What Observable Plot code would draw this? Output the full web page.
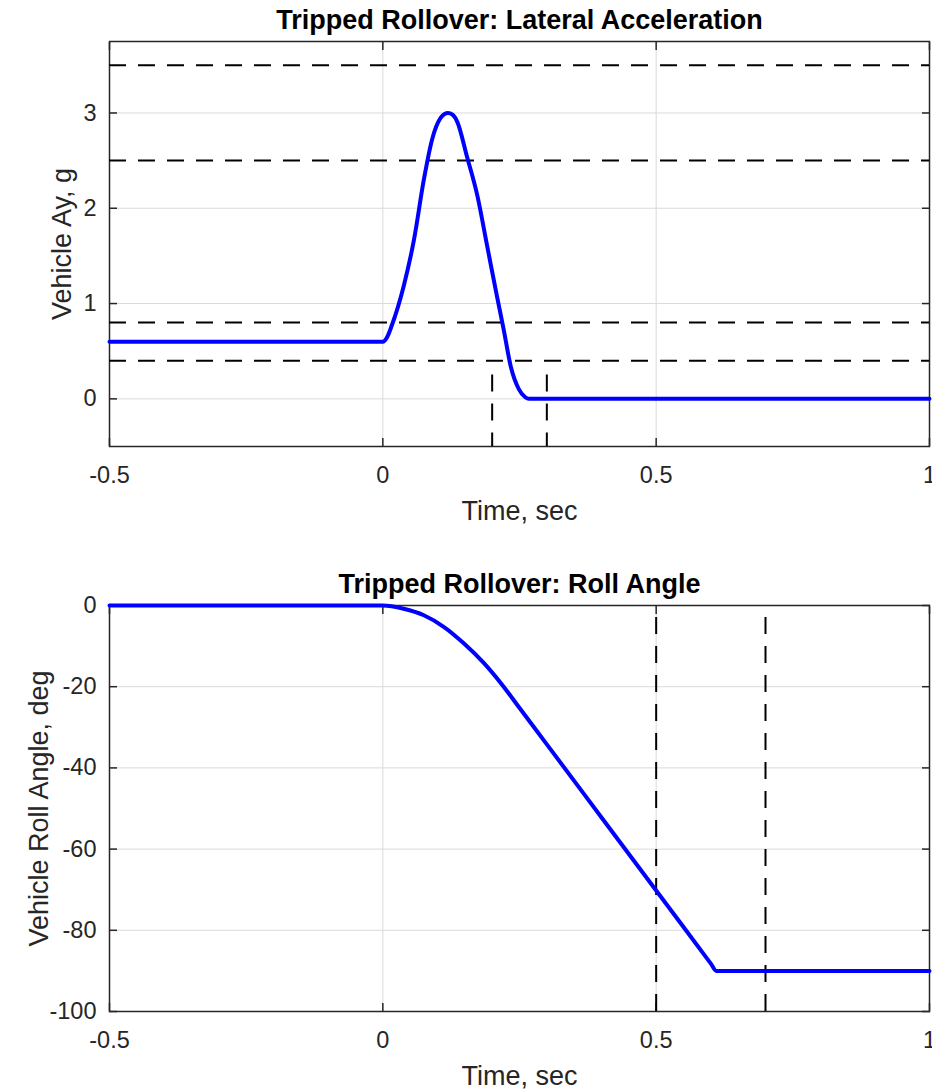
<!DOCTYPE html>
<html><head><meta charset="utf-8">
<script src="https://cdn.jsdelivr.net/npm/d3@7"></script>
<script src="https://cdn.jsdelivr.net/npm/@observablehq/plot@0.6"></script>
<style>body{margin:0;background:#fff;} #chart svg{display:block}</style>
</head><body><div id="chart"></div>
<script>
// ---- data ----
const timeTicks = [-0.5, 0, 0.5, 1];
const timeDomain = [-0.5, 1];

const ayTicks = [0, 1, 2, 3];
const ayDomain = [-0.5, 3.75];
const ayTime  = [-0.5, 0, 0.008, 0.017, 0.038, 0.057, 0.075, 0.090, 0.106, 0.113, 0.119, 0.128, 0.136, 0.154, 0.173, 0.191, 0.209, 0.221, 0.234, 0.249, 0.260, 0.267, 1];
const ayValue = [0.6, 0.6, 0.65, 0.78, 1.18, 1.67, 2.30, 2.72, 2.95, 2.99, 3.0, 2.98, 2.91, 2.54, 2.13, 1.60, 1.07, 0.73, 0.34, 0.10, 0.02, 0, 0];
const ayThresholds = [3.5, 2.5, 0.8, 0.4];
const ayMarkerTimes = [0.2, 0.3];
const ayMarkerTop = 0.25;

const rollTicks = [-100, -80, -60, -40, -20, 0];
const rollDomain = [-100, 0];
const rollTime  = [-0.5, 0, 0.038, 0.075, 0.112, 0.148, 0.185, 0.221, 0.246, 0.3, 0.4, 0.5, 0.6, 0.61, 0.62, 1];
const rollValue = [0, 0, -0.8, -2.4, -5.3, -9.3, -14.2, -20.0, -24.5, -34.2, -52.2, -70.2, -88.2, -90, -90, -90];
const rollMarkerTimes = [0.5, 0.7];

const titles = ["Tripped Rollover: Lateral Acceleration", "Tripped Rollover: Roll Angle"];
const xLabel = "Time, sec";
const yLabels = ["Vehicle Ay, g", "Vehicle Roll Angle, deg"];

// ---- drawing ----
const FONT = "'Liberation Sans', Arial, Helvetica, sans-serif";
const AX = "#262626";
const GRID = "#dadada";
const fmt = d => String(d);

function panel({height, marginTop, marginBottom, yDomain, yTicks, title, yLabel, yLabelDx, series, extra}) {
  return Plot.plot({
    width: 932, height, marginTop, marginBottom, marginLeft: 109, marginRight: 3,
    style: {fontFamily: FONT, fontSize: "23.5px", color: AX, background: "#fff", overflow: "visible"},
    x: {domain: timeDomain},
    y: {domain: yDomain},
    marks: [
      Plot.gridX(timeTicks, {stroke: GRID, strokeOpacity: 1, strokeWidth: 1}),
      Plot.gridY(yTicks, {stroke: GRID, strokeOpacity: 1, strokeWidth: 1}),
      Plot.frame({stroke: AX, strokeWidth: 1.5}),
      Plot.axisX(timeTicks, {anchor: "bottom", tickSize: 8, dy: -8, tickFormat: () => "", label: null, stroke: AX, strokeWidth: 1.5}),
      Plot.axisX(timeTicks, {anchor: "top", tickSize: 8, dy: 8, tickFormat: () => "", label: null, stroke: AX, strokeWidth: 1.5}),
      Plot.axisY(yTicks, {anchor: "left", tickSize: 8, dx: 8, tickFormat: () => "", label: null, stroke: AX, strokeWidth: 1.5}),
      Plot.axisY(yTicks, {anchor: "right", tickSize: 8, dx: -8, tickFormat: () => "", label: null, stroke: AX, strokeWidth: 1.5}),
      Plot.axisX(timeTicks, {anchor: "bottom", tickSize: 0, tickPadding: 19.5, tickFormat: fmt, label: null, fill: AX}),
      Plot.axisY(yTicks, {anchor: "left", tickSize: 0, tickPadding: 13, tickFormat: fmt, label: null, fill: AX}),
      ...extra,
      Plot.line(series, {x: "t", y: "v", stroke: "#0000ff", strokeWidth: 4, strokeLinejoin: "round", curve: "monotone-x"}),
      Plot.text([title], {text: d => d, frameAnchor: "top", lineAnchor: "middle", textAnchor: "middle", dy: -21, fontSize: 27, fontWeight: "bold", fill: "#000"}),
      Plot.text([xLabel], {text: d => d, frameAnchor: "bottom", lineAnchor: "middle", textAnchor: "middle", dy: 65, fontSize: 27, fill: AX}),
      Plot.text([yLabel], {text: d => d, frameAnchor: "left", lineAnchor: "middle", textAnchor: "middle", rotate: -90, dx: yLabelDx, fontSize: 27, fill: AX})
    ]
  });
}

const dash = {stroke: "#000", strokeWidth: 2, strokeDasharray: "17,12"};

const topPanel = panel({
  height: 545, marginTop: 41, marginBottom: 99,
  yDomain: ayDomain, yTicks: ayTicks,
  title: titles[0], yLabel: yLabels[0], yLabelDx: -47,
  series: ayTime.map((t, i) => ({t, v: ayValue[i]})),
  extra: [
    Plot.ruleY(ayThresholds, {y: d => d, ...dash}),
    Plot.ruleX(ayMarkerTimes, {x: d => d, y1: ayMarkerTop, y2: ayDomain[0], ...dash})
  ]
});

const bottomPanel = panel({
  height: 546, marginTop: 60, marginBottom: 80,
  yDomain: rollDomain, yTicks: rollTicks,
  title: titles[1], yLabel: yLabels[1], yLabelDx: -70,
  series: rollTime.map((t, i) => ({t, v: rollValue[i]})),
  extra: [
    Plot.ruleX(rollMarkerTimes, {x: d => d, y1: rollDomain[0], y2: rollDomain[1], ...dash})
  ]
});

document.getElementById("chart").append(topPanel, bottomPanel);
</script>
</body></html>
